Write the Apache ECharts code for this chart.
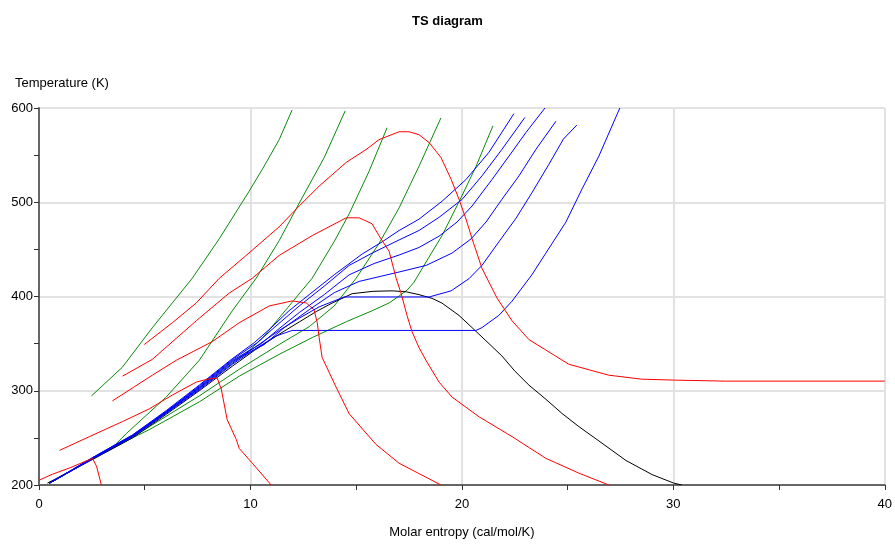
<!DOCTYPE html>
<html>
<head>
<meta charset="utf-8">
<script src="https://cdn.jsdelivr.net/npm/echarts@6/dist/echarts.min.js"></script>
<style>html,body{margin:0;padding:0;background:#fff}#c{width:895px;height:544px}</style>
</head>
<body>
<div id="c"></div>
<script>
// Axis ticks
const xTicks = [0, 10, 20, 30, 40];
const yTicks = [200, 300, 400, 500, 600];

// Saturation dome [S, T]
const dome = [[0.40,202],[2.53,227],[4.42,250],[6.02,275],[7.58,300],[9.14,326],[10.2,343],[11.36,360],[12.31,373],[13.11,384],[13.86,393],[14.81,403],[15.8,405.5],[16.70,406],[17.36,405],[17.97,402],[18.59,398],[19.06,393],[19.86,380],[20.48,367],[21.14,353],[21.89,337],[22.5,321],[23.17,306],[23.97,291],[24.73,276],[25.53,262],[26.34,249],[27.76,226],[29.0,211],[30.02,202],[30.40,200]];

// Isobars (blue)
const blue1 = [[0.5,202],[2.53,229],[4.42,253],[6.02,279],[7.58,306],[9.14,334],[10.18,351],[10.89,365],[11.83,385],[12.78,402],[13.96,423],[15.28,445],[16.23,458],[17.03,470],[17.97,482],[19.06,501],[20.19,524],[21.28,553],[22.46,594]];
const blue2 = [[0.5,202],[2.53,229],[4.42,253],[6.02,278],[7.58,305],[9.14,333],[10.32,351],[11.12,367],[12.31,390],[13.49,411],[14.67,433],[15.75,446],[17.03,460],[17.97,470],[18.92,484],[20.01,503],[20.95,528],[21.89,556],[22.98,590]];
const blue3 = [[0.5,202],[2.53,228],[4.42,252],[6.02,278],[7.58,304],[9.14,332],[10.51,350],[11.36,366],[12.31,383],[13.49,402],[14.67,423],[15.85,435],[17.03,444],[17.97,452],[18.92,464],[19.77,479],[20.48,496],[21.42,524],[22.23,549],[23.03,574],[23.93,600]];
const blue4 = [[0.5,202],[2.53,228],[4.42,252],[6.02,277],[7.58,303],[9.14,331],[10.65,349],[11.60,367],[12.78,386],[13.96,404],[15.14,416],[17.03,426],[18.31,433],[19.53,446],[20.43,461],[21.14,479],[21.89,503],[22.70,528],[23.50,556],[24.45,586]];
const blue5 = [[0.5,202],[2.53,228],[4.42,252],[6.02,277],[7.58,302],[9.14,329],[10.2,346],[11.36,364],[12.31,377],[13.25,389],[14.43,399.5],[18.45,399.5],[19.49,406],[20.34,419],[20.95,433],[21.75,458],[22.56,483],[23.31,510],[24.11,540],[24.80,567],[25.44,582]];
const blue6 = [[0.5,202],[2.53,228],[4.42,251],[6.02,276],[7.58,301],[9.14,328],[10.2,344],[11.2,358],[11.97,364],[20.67,364],[20.95,367],[21.75,380],[22.37,395],[23.31,423],[23.97,446],[24.92,479],[25.68,514],[26.48,549],[27.47,600]];

// Isenthalps (red)
const red1 = [[0,205],[0.64,211.5],[1.44,218],[2.53,228.3],[2.72,220],[2.95,200]];
const red2 = [[0.97,236.7],[2.39,251.4],[3.94,267.2],[5.22,280.8],[6.31,295.5],[7.44,309.2],[7.96,312.3],[8.43,313.4],[8.62,301.8],[8.90,269.3],[9.33,248.3],[9.47,238.8],[10.09,223.1],[10.98,200]];
const red3 = [[3.47,289.2],[5.36,316.5],[6.49,332.3],[8.20,352.2],[9.47,372.2],[10.89,390.0],[11.97,395.3],[12.64,393.2],[13.01,385.8],[13.16,372.2],[13.25,356.4],[13.39,335.4],[14.05,303.9],[14.67,275.6],[15.94,243.0],[17.03,223.1],[19.01,200]];
const red4 = [[3.95,315.5],[5.36,333.3],[7.44,374.3],[9.00,403.7],[10.09,419.4],[11.36,443.6],[12.92,464.6],[14.53,483.5],[15.14,483.5],[15.75,477.2],[16.08,464.6],[16.56,447.8],[16.89,419.4],[17.12,403.7],[17.41,379.5],[17.64,362.7],[17.97,345.9],[18.30,332.3],[18.92,309.2],[19.53,293.4],[20.81,272.4],[22.37,251.4],[23.97,228.3],[25.53,212.6],[26.95,200]];
const red5 = [[4.98,349.1],[6.31,372.2],[7.44,393.2],[8.53,419.4],[9.80,443.6],[11.36,474.0],[12.31,496.1],[13.25,517.1],[14.53,542.3],[15.47,555.9],[16.08,566.4],[17.03,574.8],[17.50,574.8],[17.97,571.7],[18.45,563.3],[19.01,547.5],[19.49,524.4],[19.86,503.4],[20.19,482.4],[20.48,461.4],[20.95,429.9],[21.66,398.4],[22.37,374.3],[23.17,354.3],[25.06,328.1],[26.95,316.5],[28.51,312.3],[30.02,311.3],[32.48,310.2],[40.0,310.2]];

// Isochores (green)
const green1 = [[2.48,294.5],[3.94,324.9],[5.36,366.9],[7.25,419.4],[8.53,461.4],[9.94,511.8],[10.56,534.9],[11.36,566.4],[11.97,597.9]];
const green2 = [[0.5,202],[2.53,228],[3.57,242],[4.13,254.6],[6.02,293.4],[7.58,332.3],[9.14,384.8],[10.27,419.4],[11.36,459.3],[12.31,499.2],[13.49,547.5],[14.48,596.9]];
const green3 = [[0.5,202],[2.53,228],[4.42,251.5],[6.02,276.7],[7.58,302.9],[9.14,330.2],[9.94,342.8],[10.55,355.4],[11.83,390.0],[12.92,419.4],[13.96,458.3],[14.67,487.7],[15.61,532.8],[16.46,579.0]];
const green4 = [[0.5,202],[2.53,228],[4.42,250.5],[5.22,261.9],[7.58,294.5],[9.47,322.8],[11.36,349.1],[12.78,368.0],[13.96,390.0],[15.00,419.4],[16.08,456.2],[17.03,494.0],[17.97,538.1],[19.01,589.5]];
const green5 = [[0.5,202],[2.53,227.5],[4.42,250],[5.22,258.8],[7.58,288.2],[9.47,315.5],[11.36,338.6],[12.92,356.4],[14.53,373.2],[15.75,384.8],[16.56,393.2],[17.03,400.5],[17.41,406.8],[17.74,415.2],[18.07,427.8],[19.06,464.6],[19.86,500.3],[20.67,538.1],[21.47,581.1]];

const greens = [green1, green2, green3, green4, green5];
const blues = [blue1, blue2, blue3, blue4, blue5, blue6];
const reds = [red1, red2, red3, red4, red5];

function line(data, color) {
  return {type: 'line', data: data, symbol: 'none', smooth: false, silent: true,
    lineStyle: {color: color, width: 1}, animation: false};
}
const series = [];
greens.forEach(d => series.push(line(d, '#0a8a0a')));
series.push(line(dome, '#000000'));
blues.forEach(d => series.push(line(d, '#0000ff')));
reds.forEach(d => series.push(line(d, '#ff0000')));

const font = 'Liberation Sans, Arial, sans-serif';
const chart = echarts.init(document.getElementById('c'), null, {renderer: 'canvas'});
chart.setOption({
  animation: false,
  backgroundColor: '#ffffff',
  title: {text: 'TS diagram', left: 'center', top: 10,
    textStyle: {fontSize: 13, fontWeight: 'bold', color: '#000', fontFamily: font}},
  grid: {left: 39, right: 9, top: 108, bottom: 55, containLabel: false},
  graphic: [{type: 'text', left: 15, top: 77,
    style: {text: 'Temperature (K)', fontSize: 13, fill: '#000', fontFamily: font}}],
  xAxis: {type: 'value', min: xTicks[0], max: xTicks[xTicks.length-1], interval: 10,
    name: 'Molar entropy (cal/mol/K)', nameLocation: 'middle', nameGap: 41,
    nameTextStyle: {fontSize: 13, color: '#000', fontFamily: font},
    axisLine: {show: true, onZero: false, lineStyle: {color: '#666', width: 2}},
    axisTick: {show: true, length: 5, lineStyle: {color: '#333', width: 1}},
    minorTick: {show: true, splitNumber: 2, length: 5, lineStyle: {color: '#333', width: 1}},
    axisLabel: {fontSize: 13, color: '#000', margin: 13, fontFamily: font},
    splitLine: {show: true, lineStyle: {color: '#e2e2e2', width: 2}}},
  yAxis: {type: 'value', min: yTicks[0], max: yTicks[yTicks.length-1], interval: 100,
    axisLine: {show: true, onZero: false, lineStyle: {color: '#666', width: 2}},
    axisTick: {show: true, length: 5, lineStyle: {color: '#333', width: 1}},
    minorTick: {show: true, splitNumber: 2, length: 5, lineStyle: {color: '#333', width: 1}},
    axisLabel: {fontSize: 13, color: '#000', margin: 6, fontFamily: font},
    splitLine: {show: true, lineStyle: {color: '#e2e2e2', width: 2}}},
  series: series
});
</script>
</body>
</html>
